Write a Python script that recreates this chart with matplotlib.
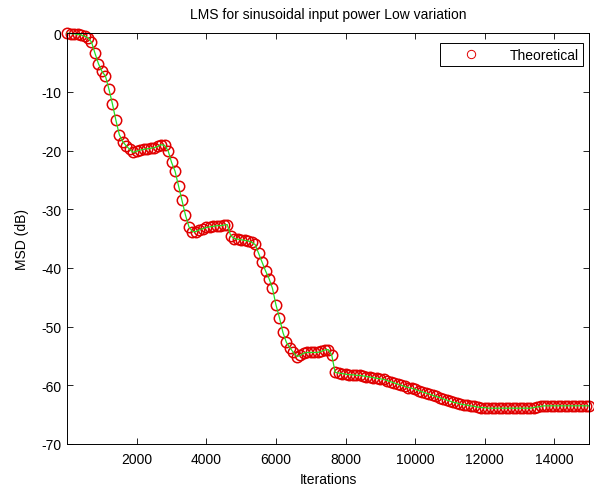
import numpy as np
import matplotlib
matplotlib.use("Agg")
import matplotlib.pyplot as plt

plt.rcParams['font.family'] = ['Liberation Sans', 'DejaVu Sans']
plt.rcParams['axes.unicode_minus'] = False

# LMS learning curve, one sample every 100 iterations
iterations = np.arange(0, 15001, 100)
msd_db = [
    0.0, -0.05, -0.1, -0.2, -0.3, -0.5, -0.8, -1.5, -3.4, -5.2,          # 0-900
    -6.5, -7.3, -9.5, -12.0, -14.8, -17.3, -18.5, -19.2, -19.8, -20.3,   # 1000-1900
    -20.1, -19.9, -19.8, -19.7, -19.6, -19.5, -19.3, -19.0, -19.1, -20.0,  # 2000-2900
    -22.0, -23.5, -26.0, -28.5, -31.0, -33.0, -33.8, -33.8, -33.5, -33.3,  # 3000-3900
    -33.1, -33.0, -32.9, -32.8, -32.8, -32.7, -32.6, -34.5, -35.0, -35.1,  # 4000-4900
    -35.2, -35.3, -35.4, -35.6, -36.0, -37.5, -39.0, -40.5, -41.8, -43.5,  # 5000-5900
    -46.3, -48.5, -51.0, -52.7, -53.6, -54.4, -55.1, -54.9, -54.5, -54.4,  # 6000-6900
    -54.4, -54.4, -54.4, -54.2, -54.0, -53.9, -54.8, -57.8, -57.9, -58.0,  # 7000-7900
    -58.1, -58.2, -58.2, -58.3, -58.3, -58.4, -58.5, -58.6, -58.7, -58.8,  # 8000-8900
    -58.9, -59.0, -59.2, -59.4, -59.6, -59.8, -60.0, -60.2, -60.4, -60.5,  # 9000-9900
    -60.7, -60.9, -61.1, -61.3, -61.5, -61.7, -61.9, -62.1, -62.3, -62.5,  # 10000-10900
    -62.7, -62.9, -63.0, -63.2, -63.3, -63.4, -63.5, -63.6, -63.7, -63.8,  # 11000-11900
    -63.8, -63.9, -63.9, -63.9, -63.9, -63.9, -63.9, -63.9, -63.9, -63.9,  # 12000-12900
    -63.9, -63.9, -63.9, -63.9, -63.8, -63.7, -63.6, -63.5, -63.5, -63.5,  # 13000-13900
    -63.5, -63.5, -63.5, -63.5, -63.5, -63.5, -63.5, -63.5, -63.5, -63.5,  # 14000-14900
    -63.5,                                                                 # 15000
]
x_ticks = [2000, 4000, 6000, 8000, 10000, 12000, 14000]
y_ticks = [0, -10, -20, -30, -40, -50, -60, -70]

fig = plt.figure(figsize=(5.94, 4.89), dpi=100)
ax = fig.add_axes([0.113, 0.090, 0.879, 0.840])

ax.plot(iterations, msd_db, 'o', mfc='none', mec='#e00000', ms=7.5, mew=1.1,
        label='Theoretical', clip_on=False)
ax.plot(iterations, msd_db, '-', color='#22dd22', lw=0.9, clip_on=False)

ax.set_xlim(0, 15000)
ax.set_ylim(-70, 0)
ax.set_xticks(x_ticks)
ax.set_yticks(y_ticks)
ax.tick_params(direction='in', top=True, right=True, labelsize=10, length=4,
               width=0.6)
ax.tick_params(axis='x', pad=6)
ax.tick_params(axis='y', pad=4)
for s in ax.spines.values():
    s.set_linewidth(0.7)

ax.set_title('LMS for sinusoidal input power Low variation', fontsize=10, pad=11)
ax.set_xlabel('Iterations', fontsize=10, labelpad=4)
ax.set_ylabel('MSD (dB)', fontsize=10, labelpad=9)

leg = ax.legend(loc='upper right', fontsize=10, fancybox=False, framealpha=1,
                edgecolor='black', handlelength=3.9, handletextpad=0.8,
                borderpad=0.3, borderaxespad=0, bbox_to_anchor=(0.988, 0.975))
leg.get_frame().set_linewidth(0.7)
for h in leg.legend_handles:
    h.set_markersize(6)
    h.set_markeredgewidth(0.7)

fig.savefig('out.png', dpi=100)
